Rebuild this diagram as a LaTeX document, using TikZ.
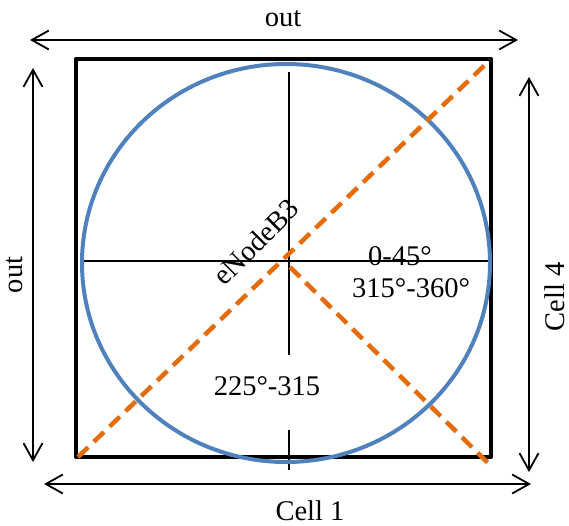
\documentclass[tikz,border=0pt]{standalone}
\usepackage{fontspec}
\setmainfont{Liberation Serif}
\usepackage{tikz}
\usetikzlibrary{arrows.meta}
\definecolor{coverblue}{RGB}{79,129,189}
\definecolor{sectorange}{RGB}{228,108,10}

\begin{document}
\begin{tikzpicture}[x=1pt,y=-1pt]
	 \tikzstyle{cellbox}=[draw,line width=4.5pt,black,line join=round]
	 \tikzstyle{cover}=[draw,line width=4pt,coverblue]
	 \tikzstyle{axis}=[draw,line width=1.8pt,black]
	 \tikzstyle{sector}=[draw,line width=4.5pt,sectorange,dash pattern=on 14pt off 8pt]
	 \tikzstyle{dim}=[draw,line width=1.8pt,black,{Straight Barb[length=17pt,width=19pt]}-{Straight Barb[length=17pt,width=19pt]}]
	 \tikzstyle{lbl}=[font=\fontsize{28.5}{31}\selectfont,inner sep=0pt]
	 \useasboundingbox (0,0) rectangle (569,525);
	 % cell borders
	 \coordinate (nw) at (76,59);
	 \coordinate (se) at (491,457);
	 \coordinate (sw) at (78,457);
	 \coordinate (ne) at (490,60);
	 \coordinate (cc) at (286,263);
	 \coordinate (ctr) at (289,261);
	 % axes
	 \coordinate (w) at (80,261);
	 \coordinate (e) at (490,261);
	 \coordinate (n) at (289,72);
	 \coordinate (nmid) at (289,355);
	 \coordinate (smid) at (289,430);
	 \coordinate (s) at (289,470);
	 % sector lines
	 \coordinate (sc) at (290,267);
	 \coordinate (scend) at (493,468);
	 % dimension arrows
	 \coordinate (ta) at (30,40);
	 \coordinate (tb) at (518,40);
	 \coordinate (la) at (33,68);
	 \coordinate (lb) at (33,462);
	 \coordinate (ra) at (529,77);
	 \coordinate (rb) at (529,472);
	 \coordinate (ba) at (44,484);
	 \coordinate (bb) at (531,484);

	 \draw[cellbox] (nw) rectangle (se);
	 \draw[axis] (w) -- (e);
	 \draw[axis] (n) -- (nmid);
	 \draw[axis] (smid) -- (s);
	 \draw[cover] (cc) ellipse [x radius=204, y radius=199];
	 \draw[sector] (sw) -- (ne);
	 \draw[sector] (sc) -- (scend);

	 \draw[dim] (ta) -- (tb);
	 \draw[dim] (la) -- (lb);
	 \draw[dim] (ra) -- (rb);
	 \draw[dim] (ba) -- (bb);

	 \node[lbl,anchor=base] (top) at (283,26) {out};
	 \node[lbl,anchor=base,rotate=90] (left) at (22,275) {out};
	 \node[lbl,anchor=base,rotate=90] (right) at (564,297) {Cell 4};
	 \node[lbl,anchor=base] (bottom) at (310,520) {Cell 1};
	 \node[lbl,rotate=45] (enb) at (256,242) {eNodeB3};
	 \node[lbl,anchor=base] (s1) at (400,265) {0-45°};
	 \node[lbl,anchor=base] (s2) at (411,297) {315°-360°};
	 \node[lbl,anchor=base] (s3) at (267,395) {225°-315};
 \end{tikzpicture}
\end{document}
